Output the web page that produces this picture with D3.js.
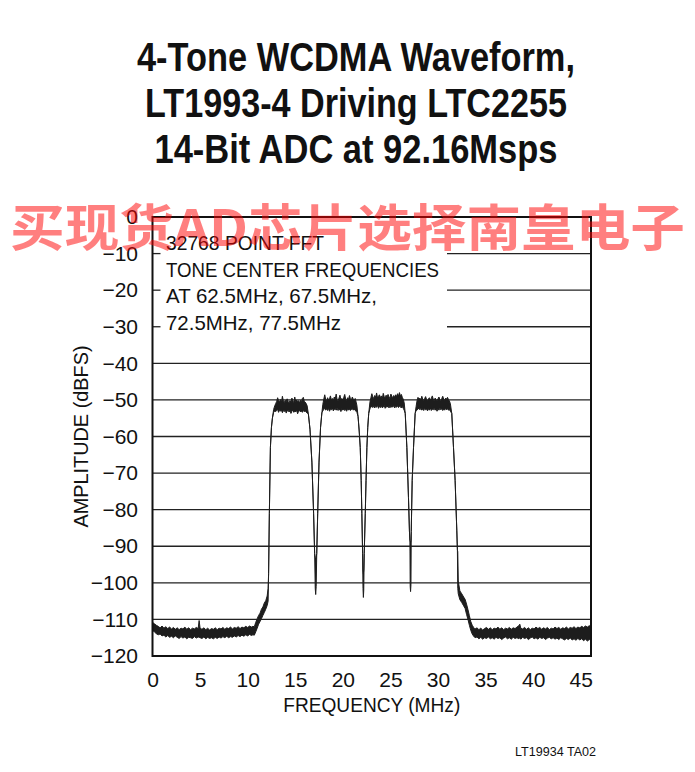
<!DOCTYPE html>
<html>
<head>
<meta charset="utf-8">
<script src="https://cdn.jsdelivr.net/npm/d3@7"></script>
<style>
  html, body { margin: 0; padding: 0; background: #ffffff; }
  svg { display: block; }
  text { font-family: "Liberation Sans", Arial, Helvetica, sans-serif; fill: #111; }
</style>
</head>
<body>
<svg id="chart" width="695" height="772"></svg>
<script>
// ---------------- DATA ----------------
const titleLines = ["4-Tone WCDMA Waveform,", "LT1993-4 Driving LTC2255", "14-Bit ADC at 92.16Msps"];
const noteLines = ["32768 POINT FFT", "TONE CENTER FREQUENCIES", "AT 62.5MHz, 67.5MHz,", "72.5MHz, 77.5MHz"];
const xTicks = [0, 5, 10, 15, 20, 25, 30, 35, 40, 45];
const yTicks = [0, -10, -20, -30, -40, -50, -60, -70, -80, -90, -100, -110, -120];
const xLabel = "FREQUENCY (MHz)";
const yLabel = "AMPLITUDE (dBFS)";
const footer = "LT19934 TA02";
const watermark = "买现货AD芯片选择南皇电子";
const nyquist = 46.08;

// spectrum rows: [frequency MHz, upper envelope dBFS, lower envelope dBFS]
const floorLeft = [
[0.0,-110.8,-113.0],[0.2,-111.2,-113.4],[0.4,-111.6,-113.9],[0.6,-111.9,-114.2],[0.8,-112.3,-114.0],
[1.0,-111.8,-114.5],[1.2,-112.4,-114.3],[1.4,-112.0,-114.8],[1.6,-112.5,-114.4],[1.8,-112.1,-114.9],
[2.0,-112.6,-114.6],[2.2,-112.2,-115.0],[2.4,-112.7,-114.5],[2.6,-112.3,-114.9],[2.8,-112.8,-115.2],
[3.0,-112.4,-114.7],[3.2,-112.6,-115.1],[3.4,-112.1,-114.8],[3.6,-112.7,-115.3],[3.8,-112.3,-114.9],
[4.0,-112.8,-115.0],[4.2,-112.4,-115.2],[4.4,-112.6,-114.7],[4.6,-112.2,-115.1],[4.8,-112.5,-114.8],
[4.9,-110.3,-114.9],[5.0,-112.4,-115.0],[5.2,-112.7,-115.2],[5.4,-112.3,-114.8],[5.6,-112.8,-115.3],
[5.8,-112.4,-114.9],[6.0,-112.9,-115.2],[6.2,-112.5,-115.0],[6.4,-112.7,-115.3],[6.6,-112.3,-114.9],
[6.8,-112.8,-115.2],[7.0,-112.4,-114.8],[7.2,-112.6,-115.1],[7.4,-112.2,-114.7],[7.6,-112.7,-115.0],
[7.8,-112.3,-114.6],[8.0,-112.5,-115.0],[8.2,-112.1,-114.7],[8.4,-112.6,-114.9],[8.6,-112.2,-114.5],
[8.8,-112.4,-114.8],[9.0,-112.0,-114.4],[9.2,-112.5,-114.7],[9.4,-112.1,-114.3],[9.6,-112.3,-114.6],
[9.8,-111.9,-114.2],[10.0,-112.2,-114.5],[10.2,-111.8,-114.1],[10.4,-112.1,-114.4],[10.55,-111.9,-114.2]
];
const skirtLeft = [
[10.7,-112.0,-114.3],[10.85,-110.8,-113.4],[11.0,-109.8,-112.4],[11.15,-108.9,-111.3],[11.3,-108.3,-110.6],
[11.45,-107.2,-109.8],[11.6,-106.6,-108.9],[11.75,-105.5,-108.1],[11.9,-104.9,-107.2],[12.05,-103.6,-106.2],
[12.15,-101.5,-105.0],[12.2,-97.5,-97.5],[12.28,-81.0,-81.0],[12.39,-63.0,-63.0],[12.5,-57.5,-57.5],
[12.6,-55.0,-55.0],[12.73,-52.6,-53.4],[12.85,-51.6,-53.0]
];
const tone1 = [
[12.95,-51.0,-53.2],[13.05,-50.4,-52.9],[13.15,-49.4,-52.6],[13.25,-50.2,-53.4],[13.35,-50.5,-52.7],
[13.45,-49.9,-53.1],[13.55,-50.6,-52.8],[13.65,-49.0,-53.5],[13.75,-50.3,-52.9],[13.85,-50.7,-53.2],
[13.95,-50.1,-52.7],[14.05,-50.5,-53.6],[14.15,-49.7,-53.0],[14.25,-50.4,-52.8],[14.35,-50.8,-53.3],
[14.45,-50.2,-52.9],[14.55,-50.6,-53.7],[14.65,-49.5,-53.1],[14.75,-50.3,-52.8],[14.85,-50.7,-53.4],
[14.95,-49.2,-53.0],[15.05,-50.5,-53.3],[15.15,-50.0,-52.8],[15.25,-50.6,-53.8],[15.35,-50.2,-53.1],
[15.45,-50.8,-52.9],[15.55,-50.1,-53.3],[15.65,-50.5,-53.0],[15.75,-49.6,-53.4],[15.85,-49.3,-52.9],
[15.95,-50.4,-53.2],[16.05,-50.6,-53.0],[16.15,-51.0,-53.3],[16.25,-51.6,-53.6]
];
const notch1 = [
[16.38,-53.8,-53.8],[16.55,-58.0,-58.0],[16.75,-67.0,-67.0],[16.93,-81.0,-81.0],[17.04,-92.0,-92.0],
[17.1,-93.0,-101.5],[17.15,-93.5,-103.2],[17.2,-93.0,-101.0],[17.26,-92.0,-92.0],[17.36,-81.0,-81.0],
[17.5,-67.0,-67.0],[17.66,-57.5,-57.5],[17.8,-53.5,-53.5]
];
const tone2 = [
[17.9,-51.2,-53.0],[18.0,-49.8,-52.6],[18.1,-48.6,-52.3],[18.2,-49.9,-52.8],[18.3,-50.2,-52.4],
[18.4,-49.4,-52.9],[18.5,-50.0,-52.3],[18.6,-49.7,-53.1],[18.7,-48.9,-52.5],[18.8,-50.1,-52.7],
[18.9,-49.6,-52.2],[19.0,-50.3,-53.0],[19.1,-49.2,-52.6],[19.2,-49.8,-52.4],[19.3,-48.4,-52.8],
[19.4,-49.9,-52.3],[19.5,-50.2,-52.9],[19.6,-49.5,-52.5],[19.7,-48.7,-52.7],[19.8,-49.9,-53.2],
[19.9,-49.6,-52.4],[20.0,-50.1,-52.8],[20.1,-49.3,-52.5],[20.2,-48.5,-52.9],[20.3,-49.8,-52.6],
[20.4,-50.2,-53.1],[20.5,-49.4,-52.4],[20.6,-49.9,-52.8],[20.7,-48.8,-52.5],[20.8,-49.7,-52.9],
[20.9,-50.0,-52.6],[21.0,-49.2,-52.4],[21.1,-49.8,-52.8],[21.2,-50.1,-52.5],[21.3,-49.6,-52.9],
[21.4,-50.6,-53.1],[21.48,-51.5,-53.4]
];
const notch2 = [
[21.6,-54.5,-54.5],[21.72,-58.5,-58.5],[21.83,-63.0,-63.0],[21.93,-72.0,-72.0],[22.0,-81.0,-81.0],
[22.08,-92.0,-92.0],[22.12,-96.5,-101.5],[22.16,-97.5,-104.0],[22.2,-96.5,-102.0],[22.25,-92.0,-92.0],
[22.36,-81.0,-81.0],[22.44,-72.0,-72.0],[22.53,-63.0,-63.0],[22.62,-57.5,-57.5],[22.72,-53.7,-53.7]
];
const tone3 = [
[22.85,-50.6,-52.4],[22.95,-49.4,-52.0],[23.05,-48.3,-51.7],[23.15,-49.2,-52.1],[23.25,-49.6,-51.6],
[23.35,-48.8,-52.2],[23.45,-49.3,-51.8],[23.55,-48.1,-52.0],[23.65,-49.5,-51.5],[23.75,-49.0,-52.3],
[23.85,-48.6,-51.7],[23.95,-49.4,-52.1],[24.05,-48.9,-51.6],[24.15,-49.6,-52.2],[24.25,-48.2,-51.9],
[24.35,-49.1,-51.5],[24.45,-49.5,-52.3],[24.55,-48.7,-51.8],[24.65,-49.3,-52.0],[24.75,-48.5,-51.6],
[24.85,-49.2,-52.2],[24.95,-49.6,-51.7],[25.05,-48.4,-52.1],[25.15,-49.0,-51.6],[25.25,-49.4,-52.0],
[25.35,-48.8,-51.5],[25.45,-49.3,-52.2],[25.55,-48.6,-51.8],[25.65,-49.1,-52.0],[25.75,-48.3,-51.6],
[25.85,-49.0,-52.1],[25.95,-48.0,-51.7],[26.05,-48.9,-51.9],[26.15,-48.5,-52.2],[26.25,-49.3,-51.8],
[26.35,-49.8,-52.3],[26.45,-50.8,-52.8]
];
const notch3 = [
[26.56,-53.7,-53.7],[26.73,-63.0,-63.0],[26.9,-76.7,-76.7],[27.0,-85.8,-85.8],[27.05,-88.5,-88.5],
[27.08,-88.5,-101.0],[27.12,-89.0,-102.4],[27.16,-88.5,-100.5],[27.19,-86.0,-86.0],[27.29,-72.0,-72.0],
[27.43,-63.0,-63.0],[27.6,-53.7,-53.7],[27.7,-51.8,-52.9]
];
const tone4 = [
[27.8,-50.2,-52.8],[27.9,-49.3,-52.5],[28.0,-49.9,-52.2],[28.1,-49.5,-52.7],[28.2,-50.1,-52.3],
[28.3,-49.0,-52.8],[28.4,-49.8,-52.4],[28.5,-50.2,-52.9],[28.6,-49.6,-52.3],[28.7,-49.1,-52.7],
[28.8,-49.9,-52.5],[28.9,-50.3,-53.0],[29.0,-49.7,-52.4],[29.1,-49.4,-52.8],[29.2,-50.0,-52.2],
[29.3,-49.6,-52.9],[29.4,-48.9,-52.5],[29.5,-49.8,-52.7],[29.6,-50.2,-52.3],[29.7,-49.5,-52.8],
[29.8,-49.9,-52.4],[29.9,-50.3,-53.1],[30.0,-49.7,-52.5],[30.1,-49.2,-52.8],[30.2,-49.9,-52.3],
[30.3,-50.2,-52.7],[30.4,-49.6,-52.4],[30.5,-49.0,-52.9],[30.6,-49.8,-52.5],[30.7,-50.1,-52.8],
[30.8,-49.5,-52.3],[30.9,-49.8,-52.7],[31.0,-49.3,-52.4],[31.1,-49.9,-52.8],[31.2,-50.3,-52.6],
[31.3,-51.0,-53.1]
];
const skirtRight = [
[31.45,-53.7,-53.7],[31.63,-63.0,-63.0],[31.8,-72.0,-72.0],[31.98,-85.8,-85.8],[32.04,-91.0,-91.0],
[32.08,-91.5,-101.5],[32.13,-99.5,-103.0],[32.3,-102.2,-104.6],[32.5,-103.0,-105.4],[32.7,-103.9,-106.3],
[32.85,-104.5,-107.0],[33.0,-105.8,-108.6],[33.15,-107.3,-110.0],[33.3,-109.0,-111.6],[33.45,-110.6,-113.0],
[33.6,-111.6,-114.0],[33.75,-112.2,-114.6]
];
const floorRight = [
[33.9,-112.6,-115.0],[34.1,-112.3,-114.8],[34.3,-112.8,-115.3],[34.5,-112.4,-114.9],[34.7,-112.9,-115.4],
[34.9,-112.5,-115.0],[35.1,-112.2,-115.2],[35.3,-112.7,-114.8],[35.5,-112.3,-115.3],[35.7,-112.8,-115.0],
[35.9,-112.4,-115.4],[36.1,-112.6,-114.9],[36.3,-112.1,-115.2],[36.5,-112.7,-115.0],[36.7,-112.3,-115.5],
[36.9,-112.8,-115.1],[37.1,-112.4,-114.8],[37.3,-112.6,-115.3],[37.5,-112.2,-115.0],[37.7,-112.7,-115.4],
[37.9,-112.3,-114.9],[38.1,-112.5,-115.2],[38.3,-112.1,-115.0],[38.5,-111.7,-115.3],[38.6,-111.3,-115.0],
[38.7,-112.4,-115.4],[38.9,-112.6,-114.9],[39.1,-112.2,-115.2],[39.3,-112.7,-115.0],[39.5,-112.3,-115.5],
[39.7,-112.8,-115.1],[39.9,-112.4,-114.8],[40.1,-112.6,-115.3],[40.3,-112.1,-115.0],[40.5,-112.5,-115.4],
[40.7,-112.2,-114.9],[40.9,-112.7,-115.2],[41.1,-112.3,-115.0],[41.3,-112.6,-115.5],[41.5,-112.2,-115.1],
[41.7,-112.8,-114.9],[41.9,-112.4,-115.3],[42.1,-112.6,-115.0],[42.3,-112.1,-115.4],[42.5,-112.5,-115.1],
[42.7,-112.2,-115.5],[42.9,-112.7,-115.0],[43.1,-112.3,-115.3],[43.3,-112.5,-115.6],[43.5,-112.1,-115.2],
[43.7,-112.6,-115.5],[43.9,-112.2,-115.1],[44.1,-112.4,-115.6],[44.3,-112.0,-115.3],[44.5,-112.5,-115.7],
[44.7,-112.1,-115.2],[44.9,-112.3,-115.6],[45.1,-111.9,-115.3],[45.3,-112.2,-115.8],[45.5,-111.8,-115.4],
[45.7,-112.1,-115.9],[45.9,-111.7,-115.5],[46.08,-112.0,-115.7]
];

const spectrum = [].concat(floorLeft, skirtLeft, tone1, notch1, tone2, notch2, tone3, notch3, tone4, skirtRight, floorRight);

// ---------------- LAYOUT ----------------
const svg = d3.select("#chart");
const plot = { left: 152.5, right: 591, top: 217, bottom: 656 };
const x = d3.scaleLinear().domain([0, nyquist]).range([plot.left, plot.right]);
const y = d3.scaleLinear().domain([0, -120]).range([plot.top, plot.bottom]);

// Title
const titleG = svg.append("g");
const titleY = [71, 117, 163];
const titleW = [438, 422, 403];
titleLines.forEach((t, i) => {
  titleG.append("text")
    .attr("x", 356).attr("y", titleY[i])
    .attr("text-anchor", "middle")
    .attr("font-size", 40).attr("font-weight", "bold")
    .attr("textLength", titleW[i]).attr("lengthAdjust", "spacingAndGlyphs")
    .text(t);
});

// Grid lines (the top three stop short of the note text)
const noteRight = 447;
const gridG = svg.append("g");
yTicks.filter(v => v < 0 && v > -120).forEach(v => {
  const short = v >= -30;
  gridG.append("line")
    .attr("x1", short ? noteRight : plot.left).attr("x2", plot.right)
    .attr("y1", y(v)).attr("y2", y(v))
    .attr("stroke", "#222").attr("stroke-width", 1.3);
  if (short) {
    gridG.append("line")
      .attr("x1", plot.left).attr("x2", plot.left + 8)
      .attr("y1", y(v)).attr("y2", y(v))
      .attr("stroke", "#222").attr("stroke-width", 1.3);
  }
});

// Spectrum
svg.append("clipPath").attr("id", "clip").append("rect")
  .attr("x", plot.left).attr("y", plot.top)
  .attr("width", plot.right - plot.left).attr("height", plot.bottom - plot.top);
const area = d3.area()
  .x(d => x(d[0]))
  .y0(d => y(d[2]))
  .y1(d => y(d[1]));
svg.append("path")
  .datum(spectrum)
  .attr("clip-path", "url(#clip)")
  .attr("d", area)
  .attr("fill", "#1d1d1d")
  .attr("stroke", "#1d1d1d")
  .attr("stroke-width", 1)
  .attr("stroke-linejoin", "round");

// Frame
svg.append("rect")
  .attr("x", plot.left).attr("y", plot.top)
  .attr("width", plot.right - plot.left).attr("height", plot.bottom - plot.top)
  .attr("fill", "none").attr("stroke", "#111").attr("stroke-width", 2);

// Axes
const yAxis = d3.axisLeft(y).tickValues(yTicks).tickSize(0).tickPadding(14.5);
const yg = svg.append("g").attr("transform", `translate(${plot.left},0)`).call(yAxis);
yg.select(".domain").remove();
yg.selectAll("text").attr("font-size", 21).attr("fill", "#111")
  .style("font-family", '"Liberation Sans", Arial, sans-serif');

const xAxis = d3.axisBottom(x).tickValues(xTicks).tickSize(0).tickPadding(16);
const xg = svg.append("g").attr("transform", `translate(0,${plot.bottom})`).call(xAxis);
xg.select(".domain").remove();
xg.selectAll("text").attr("font-size", 21).attr("fill", "#111")
  .style("font-family", '"Liberation Sans", Arial, sans-serif');

// Axis titles
svg.append("text")
  .attr("x", (plot.left + plot.right) / 2).attr("y", 712)
  .attr("text-anchor", "middle").attr("font-size", 21)
  .attr("textLength", 177).attr("lengthAdjust", "spacingAndGlyphs")
  .text(xLabel);
svg.append("text")
  .attr("transform", `translate(88,${(plot.top + plot.bottom) / 2}) rotate(-90)`)
  .attr("text-anchor", "middle").attr("font-size", 21)
  .attr("textLength", 182).attr("lengthAdjust", "spacingAndGlyphs")
  .text(yLabel);

// Note text
const noteY = [250, 277, 303, 330];
const noteW = [158, 273, 211, 175];
noteLines.forEach((t, i) => {
  svg.append("text")
    .attr("x", 166).attr("y", noteY[i])
    .attr("font-size", 21)
    .attr("textLength", noteW[i]).attr("lengthAdjust", "spacingAndGlyphs")
    .text(t);
});

// Footer
svg.append("text")
  .attr("x", 596).attr("y", 756).attr("text-anchor", "end")
  .attr("font-size", 12)
  .attr("textLength", 81).attr("lengthAdjust", "spacingAndGlyphs")
  .text(footer);

// Watermark overlay
svg.append("text")
  .attr("x", 10).attr("y", 246)
  .attr("font-size", 50).attr("font-weight", "bold")
  .style("font-family", '"Noto Sans CJK SC", "Noto Sans CJK JP", sans-serif')
  .style("fill", "rgba(255,0,0,0.5)")
  .attr("textLength", 675).attr("lengthAdjust", "spacingAndGlyphs")
  .text(watermark);
</script>
</body>
</html>
